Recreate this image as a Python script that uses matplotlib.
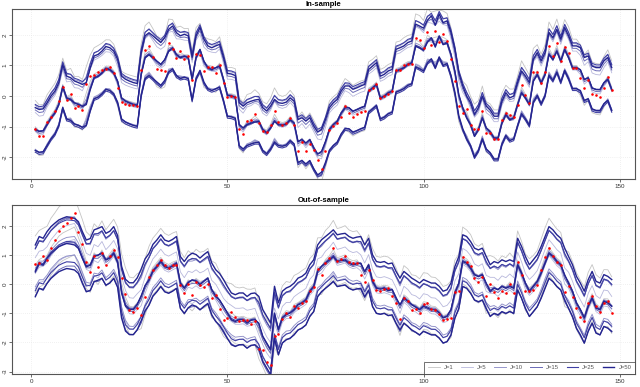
import numpy as np
import matplotlib.pyplot as plt

# ---------------------------------------------------------------------
# Data (x = 1..148)
# ---------------------------------------------------------------------
J_labels = ["J=1", "J=5", "J=10", "J=15", "J=25", "J=50"]

top_median = [
    -1.10, -1.16, -1.14, -0.94, -0.72, -0.56, -0.28, 0.30, -0.07, -0.12,
    -0.23, -0.28, -0.34, -0.28, 0.20, 0.59, 0.64, 0.75, 0.90, 0.86,
    0.75, 0.48, -0.07, -0.17, -0.23, -0.28, -0.31, 0.70, 1.25, 1.35,
    1.25, 1.14, 1.03, 1.19, 1.46, 1.57, 1.35, 1.25, 1.30, 1.25,
    0.55, 1.25, 1.52, 1.14, 0.92, 0.86, 0.92, 0.97, 0.54, 0.02,
    0.00, -0.05, -0.94, -1.05, -0.94, -0.89, -0.85, -0.83, -1.10, -1.21,
    -1.05, -0.83, -0.94, -0.96, -0.92, -0.78, -0.89, -1.49, -1.43, -1.54,
    -1.43, -1.70, -1.90, -1.81, -1.49, -1.10, -0.94, -0.83, -0.56, -0.39,
    -0.39, -0.50, -0.45, -0.39, -0.34, 0.15, 0.26, 0.37, -0.07, -0.01,
    0.10, 0.15, 0.81, 0.86, 0.92, 1.03, 1.08, 1.63, 1.57, 1.50,
    1.76, 1.90, 1.60, 1.96, 1.68, 1.74, 1.36, 0.81, 0.04, -0.39,
    -0.72, -0.94, -1.32, -1.10, -0.72, -1.05, -1.18, -1.38, -1.38, -0.89,
    -0.61, -0.78, -0.72, -0.28, 0.10, -0.07, -0.28, 0.48, 0.70, 0.43,
    0.70, 1.36, 1.19, 1.46, 1.14, 1.52, 1.25, 0.92, 0.92, 0.86,
    0.54, 0.59, 0.26, 0.21, 0.21, 0.43, 0.54, 0.21,
]

top_truth = [
    -1.07, -1.32, -1.30, -0.85, -0.70, -0.48, -0.17, 0.30, -0.13, 0.07,
    -0.39, -0.32, -0.47, 0.39, 0.64, 0.70, 0.80, 0.84, 0.90, 0.94,
    0.76, 0.26, -0.21, -0.25, -0.28, -0.30, -0.34, 0.84, 1.50, 1.64,
    1.28, 0.88, 0.86, 0.81, 1.72, 1.55, 1.25, 1.46, 1.22, 1.30,
    0.54, 1.36, 1.34, 0.83, 0.94, 0.94, 0.74, 1.03, 0.43, -0.04,
    -0.01, -0.04, -1.07, -1.25, -0.83, -0.80, -0.59, -0.88, -1.15, -1.18,
    -0.94, -0.48, -0.85, -0.94, -0.89, -0.72, -0.96, -1.79, -1.49, -1.81,
    -1.57, -1.76, -2.09, -2.39, -1.79, -1.10, -0.99, -0.89, -0.67, -0.34,
    -0.56, -0.70, -0.59, -0.52, -0.50, 0.21, 0.26, 0.39, -0.07, -0.01,
    0.08, 0.15, 0.84, 0.86, 1.03, 1.06, 1.06, 1.89, 1.84, 1.57,
    2.10, 1.68, 2.14, 1.76, 2.04, 1.79, 1.22, 0.48, -0.32, -0.54,
    -0.43, -0.96, -1.07, -1.07, -0.48, -1.21, -1.22, -1.41, -1.41, -0.78,
    -0.56, -0.63, -0.70, -0.28, 0.35, 0.04, -0.23, 0.79, 0.79, 0.43,
    0.78, 1.63, 1.30, 1.72, 1.14, 1.61, 1.41, 0.92, 0.92, 0.59,
    0.26, 0.54, 0.07, 0.02, -0.03, 0.26, 0.61, 0.21,
]

bot_median = [
    0.43, 0.72, 0.66, 0.89, 1.06, 1.18, 1.29, 1.35, 1.40, 1.38,
    1.35, 1.23, 0.89, 0.60, 0.65, 0.95, 1.00, 1.06, 0.83, 0.90,
    1.06, 0.75, -0.30, -0.75, -0.87, -0.87, -0.70, -0.40, -0.05, 0.14,
    0.45, 0.60, 0.78, 0.60, 0.55, 0.62, 0.72, 0.03, -0.14, 0.05,
    0.15, 0.10, -0.02, 0.10, 0.20, -0.19, -0.42, -0.55, -0.76, -1.00,
    -1.22, -1.28, -1.22, -1.22, -1.34, -1.24, -1.22, -1.34, -1.79, -2.02,
    -2.25, -0.99, -1.56, -1.16, -1.05, -0.99, -0.88, -0.71, -0.65, -0.54,
    -0.25, -0.08, 0.43, 0.61, 0.72, 0.83, 0.95, 0.78, 0.81, 0.83,
    0.72, 0.66, 0.70, 0.72, 0.43, 0.66, 0.09, -0.14, -0.17, -0.14,
    -0.22, -0.19, -0.48, -0.71, -0.48, -0.59, -0.71, -0.79, -0.88, -0.76,
    -0.82, -0.88, -0.88, -0.99, -1.16, -1.11, -0.88, -0.31, 0.03, 0.78,
    0.72, 0.55, 0.32, 0.26, 0.32, 0.03, -0.25, -0.14, -0.19, -0.08,
    -0.14, -0.08, -0.14, 0.66, 0.38, 0.03, -0.25, -0.08, 0.09, 0.38,
    0.72, 1.06, 0.95, 0.78, 0.66, 0.32, 0.03, -0.25, -0.65, -0.88,
    -1.16, -0.76, -0.48, -0.82, -0.88, -0.59, -0.65, -0.76,
]

bot_truth = [
    0.68, 0.74, 0.98, 0.85, 1.26, 1.52, 1.83, 2.00, 2.09, 2.26,
    2.45, 1.80, 1.37, 0.78, 0.43, 0.97, 0.60, 1.06, 0.66, 0.97,
    1.18, 0.95, 0.20, -0.33, -0.88, -0.94, -0.82, -1.06, -0.45, 0.24,
    0.49, 0.66, 0.83, 0.66, 0.57, 0.66, 0.66, -0.02, -0.29, 0.01,
    -0.37, 0.06, -0.02, -0.10, 0.01, -0.48, -0.37, -0.86, -1.22, -1.16,
    -0.95, -1.13, -1.28, -1.22, -1.22, -1.36, -1.28, -2.21, -2.27, -2.68,
    -2.79, -1.79, -1.70, -1.20, -1.00, -1.14, -0.74, -0.80, -0.65, -0.59,
    -0.22, -0.11, 0.53, 0.32, 0.74, 0.91, 1.23, 0.81, 0.86, 0.97,
    0.78, 0.72, 0.74, 0.32, 0.06, 0.49, 0.13, -0.19, -0.22, -0.17,
    -0.14, -0.42, -0.65, -1.20, -0.48, -0.59, -0.90, -0.86, -1.00, -0.68,
    -0.65, -0.86, -0.90, -1.03, -1.24, -1.20, -1.16, -0.27, -0.22, 0.92,
    0.78, 0.64, 0.21, 0.09, 0.24, -0.42, 0.01, -0.25, -0.48, -0.22,
    -0.29, 0.00, -0.29, 0.78, 0.32, -0.22, -0.23, -0.19, -0.02, 0.49,
    0.95, 1.26, 0.97, 0.78, 0.66, -0.25, -0.06, -0.45, -0.82, -1.11,
    -1.28, -0.65, -0.40, -0.76, -0.94, -0.65, -0.59, -0.99,
]

# per-J band half-widths, centre shifts and pull toward the observed points
top_upper = [0.86, 0.62, 0.74, 0.68, 0.80, 0.72]
top_lower = [0.80, 0.58, 0.70, 0.64, 0.76, 0.68]
top_shift = [0.08, -0.07, 0.05, -0.04, 0.02, 0.00]
bot_upper = [1.00, 0.55, 0.68, 0.84, 0.74, 0.92]
bot_lower = [0.95, 0.52, 0.64, 0.80, 0.70, 0.86]
bot_shift = [0.12, -0.14, 0.07, -0.06, 0.03, 0.00]
truth_pull = [0.45, 0.30, 0.20, 0.12, 0.06, 0.00]

colors = ["#c4c4c4", "#b8b8dc", "#9090c8", "#6a6ab6", "#4040a4", "#24248f"]
widths = [0.6, 0.6, 0.65, 0.7, 0.8, 1.0]

x = np.arange(1, len(top_median) + 1)

plt.rcParams["font.family"] = ["Liberation Sans", "DejaVu Sans"]
fig = plt.figure(figsize=(6.4, 3.87), dpi=100)
ax_top = fig.add_axes([0.019, 0.537, 0.973, 0.440])
ax_bot = fig.add_axes([0.019, 0.034, 0.973, 0.436])


def panel(ax, med, truth, up, lo, sh, title, yticks, ylim):
    med = np.asarray(med)
    tr = np.asarray(truth)
    for i in range(len(J_labels)):
        c = (1 - truth_pull[i]) * med + truth_pull[i] * tr + sh[i]
        kw = dict(color=colors[i], lw=widths[i], zorder=2 + i)
        ax.plot(x, c + up[i], **kw)
        ax.plot(x, c, label=J_labels[i], **kw)
        ax.plot(x, c - lo[i], **kw)
    ax.scatter(x, truth, s=3.5, color="red", zorder=20, linewidths=0)
    ax.set_xlim(-4.9, 153.9)
    ax.set_ylim(*ylim)
    ax.set_xticks([0, 50, 100, 150])
    ax.set_yticks(yticks)
    ax.set_yticklabels([str(t) for t in yticks], rotation=90, va="center")
    ax.grid(True, color="#e4e4e4", lw=0.5, ls=(0, (1, 2)))
    ax.set_axisbelow(True)
    ax.tick_params(labelsize=4.5, length=2, width=0.5, pad=1.5, colors="#333333")
    for s in ax.spines.values():
        s.set_linewidth(0.8)
        s.set_color("#555555")
    ax.set_title(title, fontsize=5.5, fontweight="bold", pad=2)


panel(ax_top, top_median, top_truth, top_upper, top_lower, top_shift,
      "In-sample", [-2, -1, 0, 1, 2], (-2.72, 2.85))
panel(ax_bot, bot_median, bot_truth, bot_upper, bot_lower, bot_shift,
      "Out-of-sample", [-3, -2, -1, 0, 1, 2], (-3.08, 2.72))

leg = ax_bot.legend(loc="lower right", ncol=6, fontsize=4.2, frameon=True,
                    fancybox=False, borderaxespad=0, handlelength=2.0,
                    columnspacing=1.3, borderpad=0.6, handletextpad=0.7)
leg.get_frame().set_edgecolor("#333333")
leg.get_frame().set_linewidth(0.6)
for t in leg.get_texts():
    t.set_color("#555555")

plt.savefig("out.png", dpi=100)
